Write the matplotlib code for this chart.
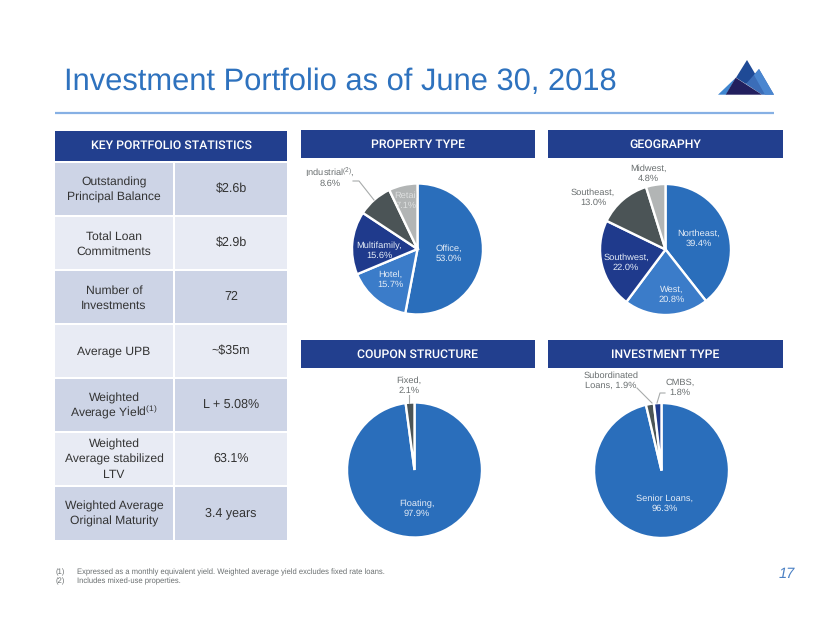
import matplotlib
matplotlib.use("Agg")
import matplotlib.pyplot as plt
from matplotlib.patches import Rectangle, Polygon

W, H = 830, 623
BODY = ['Liberation Sans', 'DejaVu Sans']
HEAD = ['Roboto', 'Liberation Sans', 'DejaVu Sans']
plt.rcParams['mathtext.fontset'] = 'custom'
plt.rcParams['mathtext.rm'] = 'Liberation Sans'
plt.rcParams['mathtext.default'] = 'rm'
plt.rcParams['text.hinting'] = 'no_hinting'

title = "Investment Portfolio as of June 30, 2018"
stat_header = "KEY PORTFOLIO STATISTICS"
panel_headers = ["PROPERTY TYPE", "GEOGRAPHY", "COUPON STRUCTURE", "INVESTMENT TYPE"]
stat_labels = ["Outstanding\nPrincipal Balance", "Total Loan\nCommitments", "Number of\nInvestments",
               "Average UPB", "Weighted\nAverage Yield$^{(1)}$", "Weighted\nAverage stabilized\nLTV",
               "Weighted Average\nOriginal Maturity"]
stat_values = ["$2.6b", "$2.9b", "72", "~$35m", "L + 5.08%", "63.1%", "3.4 years"]

property_values = [53.0, 15.7, 15.6, 8.6, 7.1]
geography_values = [39.4, 20.8, 22.0, 13.0, 4.8]
coupon_values = [97.9, 2.1]
investment_values = [96.3, 1.9, 1.8]

property_labels = ["Office,\n53.0%", "Hotel,\n15.7%", "Multifamily,\n15.6%", "Industrial$^{(2)}$,\n8.6%", "Retail\n7.1%"]
geography_labels = ["Northeast,\n39.4%", "West,\n20.8%", "Southwest,\n22.0%", "Southeast,\n13.0%", "Midwest,\n4.8%"]
coupon_labels = ["Floating,\n97.9%", "Fixed,\n2.1%"]
investment_labels = ["Senior Loans,\n96.3%", "Subordinated\nLoans, 1.9%", "CMBS,\n1.8%"]

footnotes = ["Expressed as a monthly equivalent yield. Weighted average yield excludes fixed rate loans.",
             "Includes mixed-use properties."]

C_HEAD = '#223F8E'; C_TITLE = '#2E72BE'; C_RULE = '#86B0E4'
C_DARK = '#CDD4E6'; C_LIGHT = '#E8EBF4'; C_TEXT = '#333333'; C_GREY = '#6A6F70'
PIE = ['#2A6EBB', '#3B7CC9', '#1F3A8C', '#4B5456', '#B2B5B5']

fig = plt.figure(figsize=(W/100, H/100), dpi=100, facecolor='white')
bg = fig.add_axes([0, 0, 1, 1])
bg.set_xlim(0, W); bg.set_ylim(H, 0); bg.axis('off')

def rect(x0, y0, x1, y1, c):
    bg.add_patch(Rectangle((x0, y0), x1-x0, y1-y0, fc=c, ec='none'))

def lines(ax, x, y, s, c, fs, step, drop):
    parts = s.split('\n')
    for k, part in enumerate(parts):
        ax.text(x, y + (k-(len(parts)-1)/2)*step + drop, part, color=c, fontsize=fs,
                family=BODY, ha='center', va='baseline')

bg.text(64, 82, title, color=C_TITLE, fontsize=22.2, family=BODY, va='center', ha='left')
bg.plot([55, 774], [113, 113], color=C_RULE, lw=1.6, solid_capstyle='butt')

# logo
for pts, c in [([(718, 94.7), (736, 77.5), (726, 94.7)], '#3F86D0'),
               ([(736, 77.7), (747, 60), (757, 77), (746, 84)], '#1F4A96'),
               ([(759, 69), (774, 94.7), (762, 94.7), (746, 84)], '#3B6DB8'),
               ([(759, 69), (774, 94.7), (765, 94.7), (754, 75)], '#4A86D0'),
               ([(735.7, 77.7), (725.7, 94.7), (762, 94.7)], '#221F5E')]:
    bg.add_patch(Polygon(pts, closed=True, fc=c, ec='none'))

boxes = [(55, 131, 287, 160.5), (301, 130, 535, 158), (548, 130, 783, 158), (301, 340, 535, 368), (548, 340, 783, 368)]
for (x0, y0, x1, y1), t in zip(boxes, [stat_header] + panel_headers):
    rect(x0, y0, x1, y1, C_HEAD)
    bg.text((x0+x1)/2, (y0+y1)/2+0.3, t, color='white', fontsize=8.8, fontweight='medium', family=HEAD, ha='center', va='center')

rows = [(163, 215), (217, 269), (271, 323), (325, 377), (379, 431), (433, 485), (487, 539.5)]
for i, (y0, y1) in enumerate(rows):
    c = C_DARK if i % 2 == 0 else C_LIGHT
    rect(55, y0, 173, y1, c); rect(175, y0, 287, y1, c)
    lines(bg, 114, (y0+y1)/2, stat_labels[i], C_TEXT, 8.7, 15, 4)
    bg.text(231, (y0+y1)/2, stat_values[i], color=C_TEXT, fontsize=9, family=BODY, ha='center', va='center', parse_math=False)

def pie(cx, cy, r, vals, cols):
    ax = fig.add_axes([(cx-r)/W, 1-(cy+r)/H, 2*r/W, 2*r/H])
    ax.pie(vals, colors=cols, startangle=90, counterclock=False, radius=1,
           wedgeprops=dict(edgecolor='white', linewidth=1.7))
    ax.set_xlim(-1, 1); ax.set_ylim(-1, 1); ax.set_aspect('equal')
    ax.patch.set_alpha(0)
    for p in ax.patches: p.set_clip_on(False)

pie(417.5, 249, 65.5, property_values, PIE)
pie(665.5, 249.5, 65.5, geography_values, PIE)
pie(414.5, 470, 67.5, coupon_values, [PIE[0], PIE[3]])
pie(661.5, 470.5, 67.5, investment_values, [PIE[0], PIE[3], PIE[2]])

top = fig.add_axes([0, 0, 1, 1]); top.set_xlim(0, W); top.set_ylim(H, 0); top.axis('off'); top.patch.set_alpha(0)
def lab(x, y, s, c):
    lines(top, x, y, s, c, 6.7, 10, 3)
LW = '#E4ECF6'
lab(449, 253, property_labels[0], LW); lab(390, 279, property_labels[1], LW)
lab(379, 250, property_labels[2], LW); lab(330, 178, property_labels[3], C_GREY); lab(406, 200, property_labels[4], '#DDDFDF')
lab(699, 238, geography_labels[0], LW); lab(672, 294, geography_labels[1], LW)
lab(626, 262, geography_labels[2], LW); lab(593, 197, geography_labels[3], C_GREY); lab(648, 173, geography_labels[4], C_GREY)
lab(417, 508, coupon_labels[0], LW); lab(409, 385, coupon_labels[1], C_GREY)
lab(665, 503, investment_labels[0], LW); lab(611, 380, investment_labels[1], C_GREY); lab(680, 387, investment_labels[2], C_GREY)
for xs, ys in [([353, 359, 374], [181, 181, 200]), ([637, 652], [388, 403]), ([665, 660, 657], [393, 393, 403]), ([409, 409], [395, 403])]:
    top.plot(xs, ys, color='#A8ABAB', lw=0.8)

for i, t in enumerate(footnotes):
    y = 572 + i*9.5
    top.text(56, y, f"({i+1})", color=C_GREY, fontsize=5.5, family=BODY, ha='left', va='center')
    top.text(77, y, t, color=C_GREY, fontsize=5.5, family=BODY, ha='left', va='center')
top.text(787, 574, "17", color='#4A80C4', fontsize=10.5, style='italic', family=BODY, ha='center', va='center')

fig.savefig('out.png', dpi=100)
